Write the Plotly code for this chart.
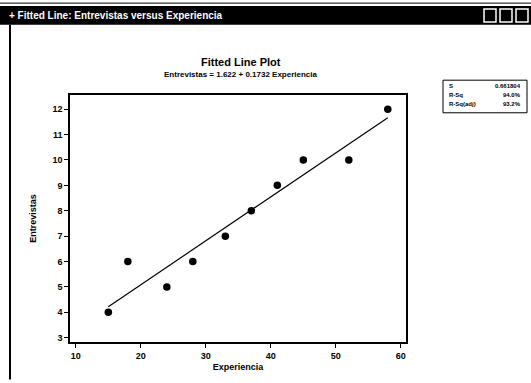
import plotly.graph_objects as go

# Observed data
experiencia = [15, 18, 24, 28, 33, 37, 41, 45, 52, 58]
entrevistas = [4, 6, 5, 6, 7, 8, 9, 10, 10, 12]

# Regression coefficients and summary stats
intercept = 1.622
slope = 0.1732
stat_names = ["S", "R-Sq", "R-Sq(adj)"]
stat_values = ["0.661804", "94.0%", "93.2%"]

x_ticks = [10, 20, 30, 40, 50, 60]
y_ticks = [3, 4, 5, 6, 7, 8, 9, 10, 11, 12]

W, H = 531, 383
L, R, T, B = 70, 125, 95, 38
PW, PH = W - L - R, H - T - B


def px(x):
    return (x - L) / PW


def py(y):
    return (H - B - y) / PH


fit_x = [min(experiencia), max(experiencia)]
fit_y = [intercept + slope * v for v in fit_x]

FONT = "Liberation Sans"

fig = go.Figure()
fig.add_trace(go.Scatter(x=fit_x, y=fit_y, mode="lines",
                         line=dict(color="black", width=1.2), hoverinfo="skip"))
fig.add_trace(go.Scatter(x=experiencia, y=entrevistas, mode="markers",
                         marker=dict(color="black", size=7.5)))

shapes = [
    # window title bar
    dict(type="rect", xref="paper", yref="paper", x0=px(0), x1=px(W), y0=py(24), y1=py(5),
         fillcolor="black", line=dict(width=0), layer="above"),
    # window left border
    dict(type="line", xref="paper", yref="paper", x0=px(10), x1=px(10), y0=py(24), y1=py(H),
         line=dict(color="black", width=2)),
    dict(type="line", xref="paper", yref="paper", x0=px(0), x1=px(W), y0=py(2), y1=py(2),
         line=dict(color="black", width=1)),
    # stats box
    dict(type="rect", xref="paper", yref="paper", x0=px(443), x1=px(527), y0=py(113), y1=py(80),
         fillcolor="white", line=dict(color="black", width=1)),
]
# window buttons
for bx in (484, 500, 516):
    shapes.append(dict(type="rect", xref="paper", yref="paper", x0=px(bx), x1=px(bx + 12),
                       y0=py(21), y1=py(8), line=dict(color="white", width=1.5),
                       fillcolor="black", layer="above"))

annotations = [
    dict(text="<b>+ Fitted Line: Entrevistas versus Experiencia</b>", xref="paper", yref="paper",
         x=px(7), y=py(14.5), xanchor="left", yanchor="middle", showarrow=False,
         font=dict(family=FONT, size=10, color="white")),
    dict(text="<b>Fitted Line Plot</b>", xref="paper", yref="paper", x=px(241), y=py(62),
         xanchor="center", yanchor="middle", showarrow=False,
         font=dict(family=FONT, size=11, color="black")),
    dict(text=f"<b>Entrevistas = {intercept} + {slope} Experiencia</b>", xref="paper", yref="paper",
         x=px(241), y=py(74), xanchor="center", yanchor="middle", showarrow=False,
         font=dict(family=FONT, size=8, color="black")),
]
for i, (name, val) in enumerate(zip(stat_names, stat_values)):
    yy = py(86 + i * 9)
    annotations.append(dict(text=f"<b>{name}</b>", xref="paper", yref="paper", x=px(447), y=yy,
                            xanchor="left", yanchor="middle", showarrow=False,
                            font=dict(family=FONT, size=6, color="black")))
    annotations.append(dict(text=f"<b>{val}</b>", xref="paper", yref="paper", x=px(523), y=yy,
                            xanchor="right", yanchor="middle", showarrow=False,
                            font=dict(family=FONT, size=6, color="black")))

fig.update_layout(
    width=W, height=H,
    margin=dict(l=L, r=R, t=T, b=B, pad=0),
    paper_bgcolor="white", plot_bgcolor="white",
    showlegend=False,
    shapes=shapes,
    annotations=annotations,
    font=dict(family=FONT, color="black"),
)
fig.update_xaxes(range=[9.1, 60.8], tickvals=x_ticks, ticktext=[f"<b>{v}</b>" for v in x_ticks],
                 ticks="outside", ticklen=4,
                 tickwidth=1.2, tickcolor="black", showgrid=False, zeroline=False,
                 showline=True, linecolor="black", linewidth=1.5, mirror=True,
                 tickfont=dict(family=FONT, size=9, color="black"),
                 title=dict(text="<b>Experiencia</b>", font=dict(family=FONT, size=9), standoff=4))
fig.update_yaxes(range=[2.83, 12.56], tickvals=y_ticks, ticktext=[f"<b>{v}</b>" for v in y_ticks],
                 ticks="outside", ticklen=4,
                 tickwidth=1.2, tickcolor="black", showgrid=False, zeroline=False,
                 showline=True, linecolor="black", linewidth=1.5, mirror=True,
                 tickfont=dict(family=FONT, size=9, color="black"),
                 title=dict(text="<b>Entrevistas</b>", font=dict(family=FONT, size=9), standoff=14))

fig.write_html("out.html")
